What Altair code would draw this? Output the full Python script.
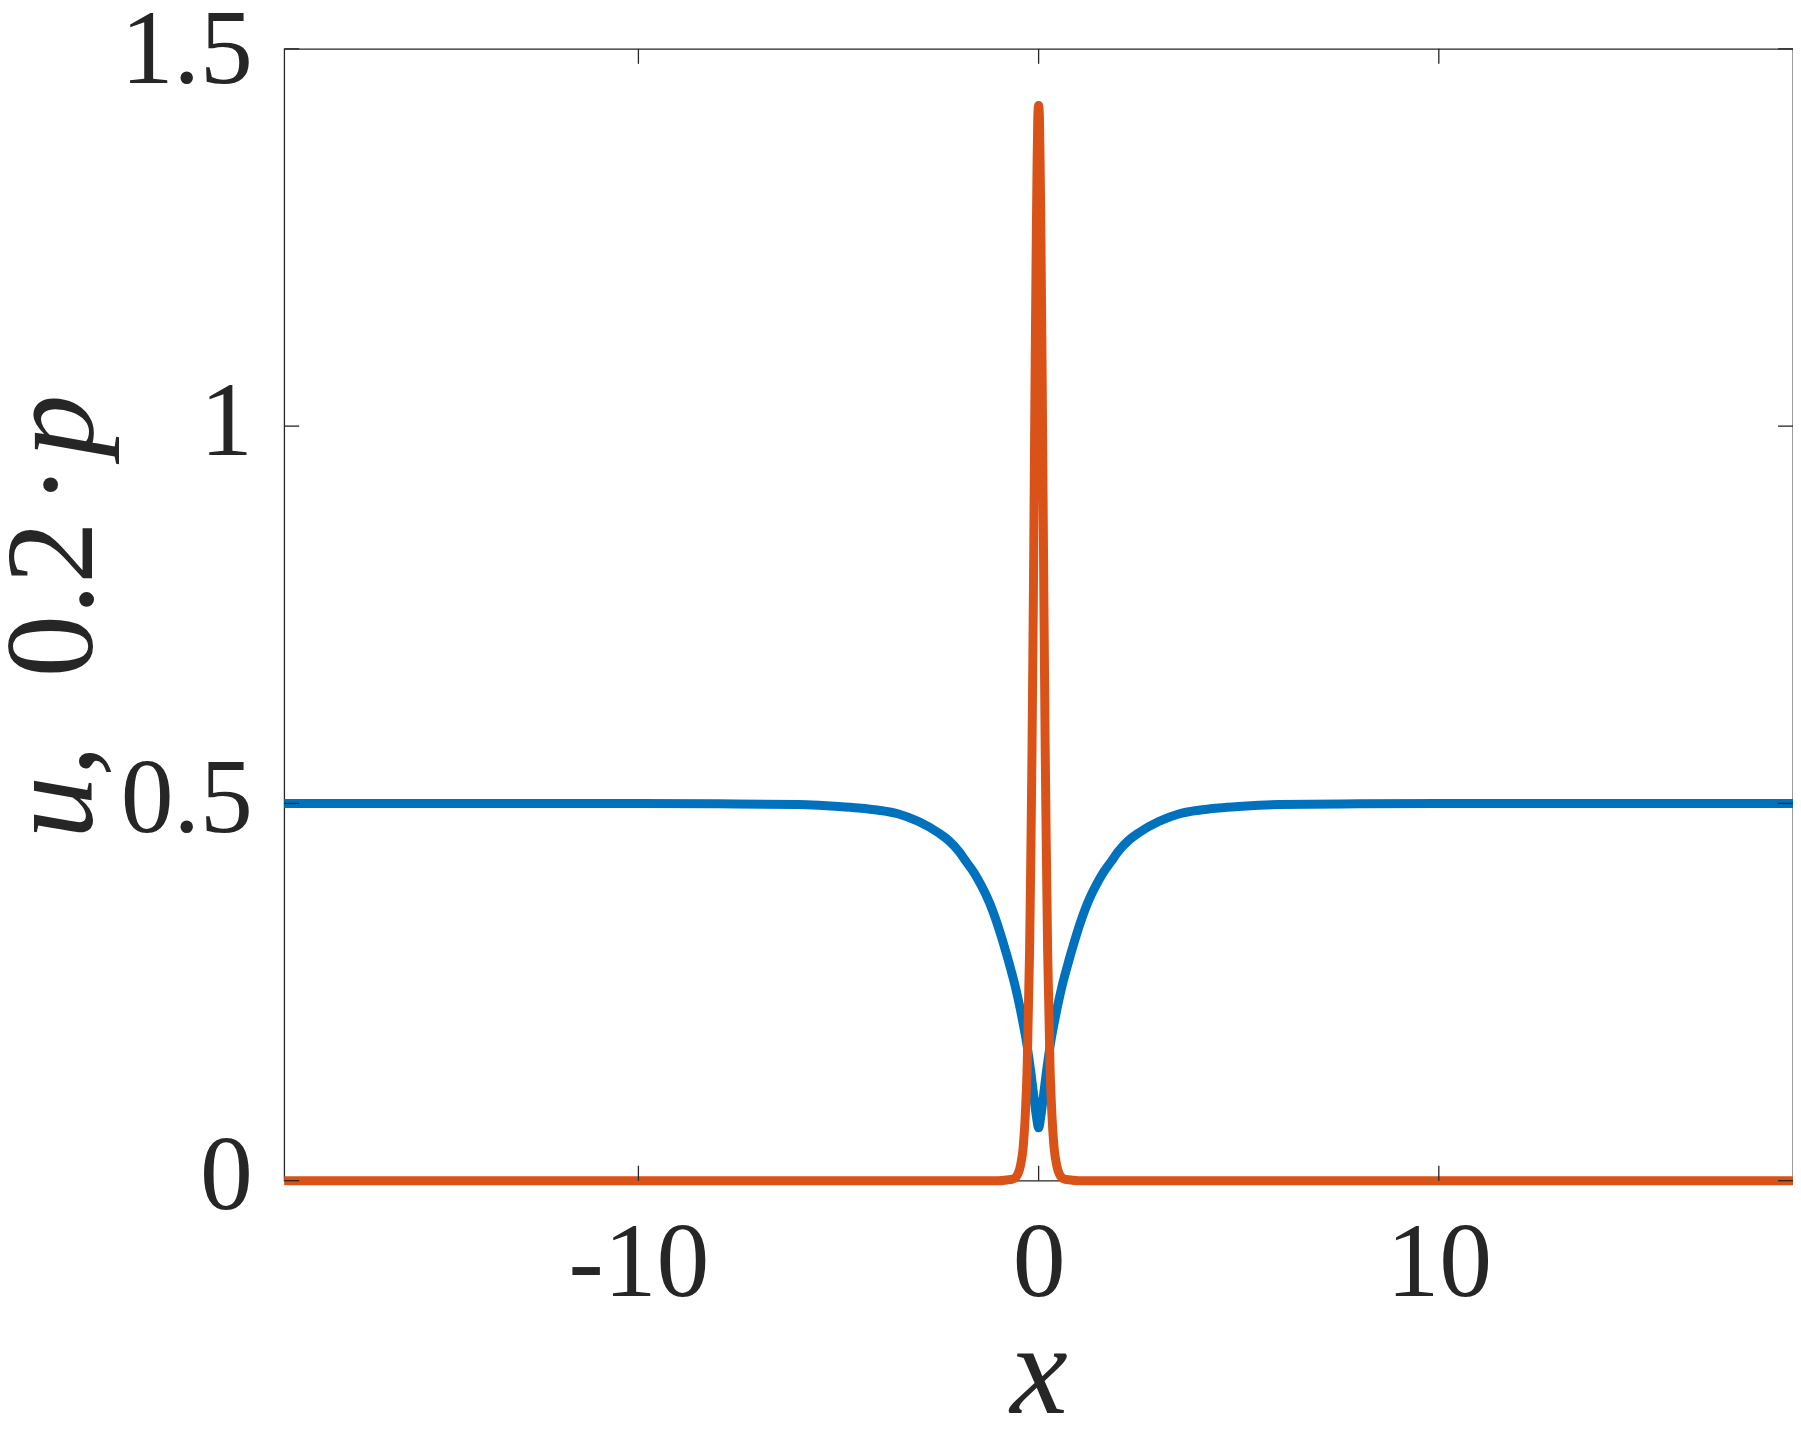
import altair as alt
import pandas as pd

W, H = 1513, 1135
FONT = "Liberation Serif"
INK = "#262626"
BLUE = "#0072BD"
ORANGE = "#D95319"
XDOM = [-18.85, 18.85]
YDOM = [0, 1.5]
LW = 9

# u(x) (blue)
u_x = [-18.85, -10, -8, -6, -5.5, -5, -4.5, -4, -3.5, -3, -2.5, -2.25, -2.0, -1.8,
       -1.6, -1.45, -1.3, -1.15, -1.0, -0.9, -0.8, -0.7, -0.6, -0.5, -0.4, -0.3,
       -0.2, -0.12, -0.06, 0,
       0.06, 0.12, 0.2, 0.3, 0.4, 0.5, 0.6, 0.7, 0.8, 0.9, 1.0, 1.15, 1.3, 1.45,
       1.6, 1.8, 2.0, 2.25, 2.5, 3, 3.5, 4, 4.5, 5, 5.5, 6, 8, 10, 18.85]
u_y = [0.5, 0.5, 0.4995, 0.4985, 0.4975, 0.496, 0.494, 0.491, 0.486, 0.476, 0.461,
       0.451, 0.437, 0.422, 0.407, 0.393, 0.377, 0.358, 0.335, 0.318, 0.300,
       0.281, 0.261, 0.238, 0.212, 0.183, 0.146, 0.112, 0.087, 0.07,
       0.087, 0.112, 0.146, 0.183, 0.212, 0.238, 0.261, 0.281, 0.300, 0.318,
       0.335, 0.358, 0.377, 0.393, 0.407, 0.422, 0.437, 0.451, 0.461, 0.476,
       0.486, 0.491, 0.494, 0.496, 0.4975, 0.4985, 0.4995, 0.5, 0.5]

# 0.2*p(x) (orange)
p_x = [-18.85, -3, -1.0, -0.8, -0.65, -0.55, -0.45, -0.39, -0.33, -0.285, -0.225,
       -0.19, -0.165, -0.13, -0.1, -0.085, -0.06, -0.04, -0.02, 0,
       0.02, 0.04, 0.06, 0.085, 0.1, 0.13, 0.165, 0.19, 0.225, 0.285, 0.33, 0.39,
       0.45, 0.55, 0.65, 0.8, 1.0, 3, 18.85]
p_y = [0, 0, 0, 0.001, 0.002, 0.006, 0.021, 0.042, 0.09, 0.152, 0.306,
       0.45, 0.57, 0.78, 0.99, 1.09, 1.24, 1.34, 1.41, 1.425,
       1.41, 1.34, 1.24, 1.09, 0.99, 0.78, 0.57, 0.45, 0.306, 0.152, 0.09, 0.042,
       0.021, 0.006, 0.002, 0.001, 0, 0, 0]

x_ticks = [-10, 0, 10]
y_ticks = [0, 0.5, 1, 1.5]

# y-axis title pieces: (text, style)
ytitle_parts = ["u,", "0.2", "\u00b7", "p"]
ytitle_styles = ["italic", "normal", "normal", "italic"]

u_df = pd.DataFrame({"x": u_x, "y": u_y})
p_df = pd.DataFrame({"x": p_x, "y": p_y})
xt_df = pd.DataFrame({"x": x_ticks})
yt_df = pd.DataFrame({"y": y_ticks})

xscale = alt.Scale(domain=XDOM, nice=False, zero=False)
yscale = alt.Scale(domain=YDOM, nice=False, zero=False)

x_axis = alt.Axis(
    values=x_ticks, ticks=False, tickSize=0, domain=False, grid=False,
    labelFont=FONT, labelFontSize=106, labelColor=INK, labelPadding=31,
    labelExpr="replace(datum.label, '\u2212', '-')",
    title="x", titleFont=FONT, titleFontStyle="italic", titleFontWeight="normal",
    titleFontSize=130, titleColor=INK, titleX=W / 2, titleY=232,
    titleBaseline="alphabetic", titleAlign="center",
)
y_axis = alt.Axis(
    values=y_ticks, ticks=False, tickSize=0, domain=False, grid=False,
    labelFont=FONT, labelFontSize=106, labelColor=INK, labelPadding=32,
    labelBaseline="middle",
    labelOffset={"condition": {"test": "datum.value == 1.5", "value": 2}, "value": -4},
    labelExpr="'' + datum.value",
    title=None,
)

X = alt.X("x:Q", scale=xscale, axis=x_axis, title="x")
Y = alt.Y("y:Q", scale=yscale, axis=y_axis, title=None)

u_line = alt.Chart(u_df).mark_line(
    color=BLUE, strokeWidth=LW, interpolate="monotone", clip=False
).encode(x=X, y=Y)
p_line = alt.Chart(p_df).mark_line(
    color=ORANGE, strokeWidth=LW, interpolate="monotone", clip=False
).encode(x=X, y=Y)

TL = 15
tick_style = dict(color=INK, strokeWidth=1.3)
xt_bottom = alt.Chart(xt_df).mark_rule(**tick_style).encode(
    x=X, y=alt.value(H), y2=alt.value(H - TL),
)
xt_top = alt.Chart(xt_df).mark_rule(**tick_style).encode(
    x=X, y=alt.value(0), y2=alt.value(TL),
)
yt_left = alt.Chart(yt_df).mark_rule(**tick_style).encode(
    y=Y, x=alt.value(0), x2=alt.value(TL),
)
yt_right = alt.Chart(yt_df).mark_rule(**tick_style).encode(
    y=Y, x=alt.value(W), x2=alt.value(W - TL),
)

# y title, drawn as rotated text pieces (italic variables, upright numbers)
title_centers = [745, 552, 437, 378]
title_layers = []
for txt, sty, cy in zip(ytitle_parts, ytitle_styles, title_centers):
    title_layers.append(
        alt.Chart(pd.DataFrame({"t": [txt]})).mark_text(
            font=FONT, fontSize=125, fontStyle=sty, color=INK, angle=270,
            align="center", baseline="alphabetic",
        ).encode(text="t:N", x=alt.value(-193), y=alt.value(cy))
    )

chart = alt.layer(
    u_line, p_line, xt_bottom, xt_top, yt_left, yt_right, *title_layers
).properties(
    width=W, height=H,
    padding={"left": 277, "top": 39, "right": 0, "bottom": 236},
    autosize=alt.AutoSizeParams(type="none"),
    background="white",
).configure_view(stroke=INK, strokeWidth=1.3)

chart.save("out.html", embed_options={"renderer": "svg", "actions": False})
